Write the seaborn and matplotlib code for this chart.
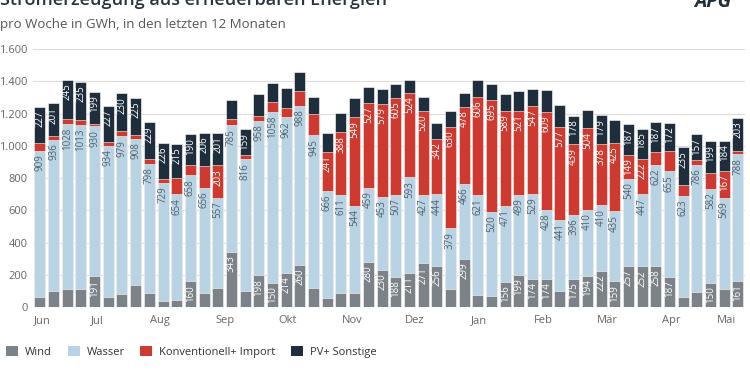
import numpy as np
import pandas as pd
import seaborn as sns
import matplotlib.pyplot as plt
from matplotlib.patches import Patch
from matplotlib.ticker import FuncFormatter

# weekly values in GWh (52 weeks, Jun .. Mai)
wind = [60, 100, 110, 115, 191, 65, 80, 135, 90, 40, 45, 160,
        85, 120, 343, 100, 198, 150, 214, 260, 120, 55, 85, 85, 280, 230,
        188, 211, 271, 256, 110, 299, 75, 70, 156, 199, 174, 174, 100, 175,
        194, 222, 159, 257, 252, 258, 187, 65, 95, 150, 110, 161]
wasser = [909, 936, 1028, 1013, 930, 934, 979, 908, 798, 729, 654, 658,
          656, 557, 785, 816, 958, 1058, 962, 988, 945, 666, 611, 544, 459, 453,
          507, 593, 427, 444, 379, 466, 621, 520, 471, 499, 529, 428, 441, 396,
          410, 410, 435, 540, 447, 622, 655, 623, 786, 582, 569, 788]
konv = [48, 26, 27, 33, 15, 24, 36, 27, 28, 24, 100, 63,
        132, 203, 41, 29, 32, 64, 59, 94, 133, 241, 388, 549, 527, 579,
        605, 524, 520, 342, 630, 478, 606, 695, 589, 521, 547, 609, 577, 439,
        504, 378, 425, 149, 222, 79, 129, 67, 33, 97, 167, 22]
pv = [227, 201, 245, 235, 199, 227, 230, 225, 229, 226, 215, 190,
      206, 201, 116, 159, 134, 118, 126, 114, 107, 117, 120, 119, 97, 88,
      83, 82, 87, 99, 96, 87, 106, 98, 106, 120, 105, 135, 138, 178,
      116, 179, 140, 187, 185, 187, 172, 235, 157, 199, 184, 203]

months = ['Jun', 'Jul', 'Aug', 'Sep', 'Okt', 'Nov', 'Dez', 'Jan', 'Feb', 'Mär', 'Apr', 'Mai']
month_pos = [0.15, 4.2, 8.8, 13.5, 18.1, 22.8, 27.4, 32.1, 36.8, 41.5, 46.1, 50.2]

series = ['Wind', 'Wasser', 'Konventionell+ Import', 'PV+ Sonstige']
colors = ['#7b8389', '#b8d3e4', '#cf3a30', '#1e2e3c']
label_colors = ['white', '#52606d', 'white', 'white']

df = pd.DataFrame({'week': np.arange(len(wind)), 'Wind': wind, 'Wasser': wasser,
                   'Konventionell+ Import': konv, 'PV+ Sonstige': pv})
cum = df[series].cumsum(axis=1)

sns.set_style('white')
plt.rcParams['font.family'] = ['Open Sans', 'DejaVu Sans']

fig = plt.figure(figsize=(7.5, 3.75), dpi=100)
ax = fig.add_axes([0.044, 0.181, 0.949, 0.688])

# stacked bars: draw cumulative totals from the top layer down
for i in range(len(series) - 1, -1, -1):
    sns.barplot(x=df['week'], y=cum[series[i]], color=colors[i], width=0.8,
                saturation=1, edgecolor='white', linewidth=0.4, ax=ax, zorder=3)

# value labels inside the segments
for i, s in enumerate(series):
    for w in range(len(df)):
        v = df[s].iloc[w]
        if v >= 145:
            top = cum[s].iloc[w]
            ax.text(w, top - 22, f'{v}', rotation=90, ha='center', va='top',
                    fontsize=7, color=label_colors[i], zorder=5)

ax.set_ylim(0, 1600)
ax.set_xlim(-0.5, len(df) - 0.5)
ax.set_yticks(range(0, 1601, 200))
ax.yaxis.set_major_formatter(FuncFormatter(lambda v, p: f'{int(v):,}'.replace(',', '.')))
ax.set_xticks(month_pos)
ax.set_xticklabels(months)
ax.tick_params(axis='both', length=0, labelsize=8, colors='#666666')
ax.tick_params(axis='y', pad=4)
ax.tick_params(axis='x', pad=6)
ax.grid(axis='y', color='#dcdcdc', linewidth=0.8, zorder=0)
ax.set_axisbelow(True)
ax.set_xlabel('')
ax.set_ylabel('')
for sp in ax.spines.values():
    sp.set_visible(False)

fig.text(0.0, 1.0, 'Stromerzeugung aus erneuerbaren Energien', fontsize=13,
         fontweight='semibold', color='#2a3440', ha='left', va='center')
fig.text(0.0, 0.935, 'pro Woche in GWh, in den letzten 12 Monaten', fontsize=9.5,
         color='#555555', ha='left', va='center')
fig.text(0.95, 0.995, 'APG', fontsize=14, fontweight='bold', style='italic',
         color='#1e2e3c', ha='center', va='center')

handles = [Patch(facecolor=c, edgecolor='none') for c in colors]
fig.legend(handles, series, loc='center left', bbox_to_anchor=(-0.005, 0.062), ncol=4,
           frameon=False, fontsize=8, handlelength=1.1, handleheight=1.1,
           handletextpad=0.6, columnspacing=1.4, labelcolor='#333333')

fig.savefig('out.png', dpi=100)
